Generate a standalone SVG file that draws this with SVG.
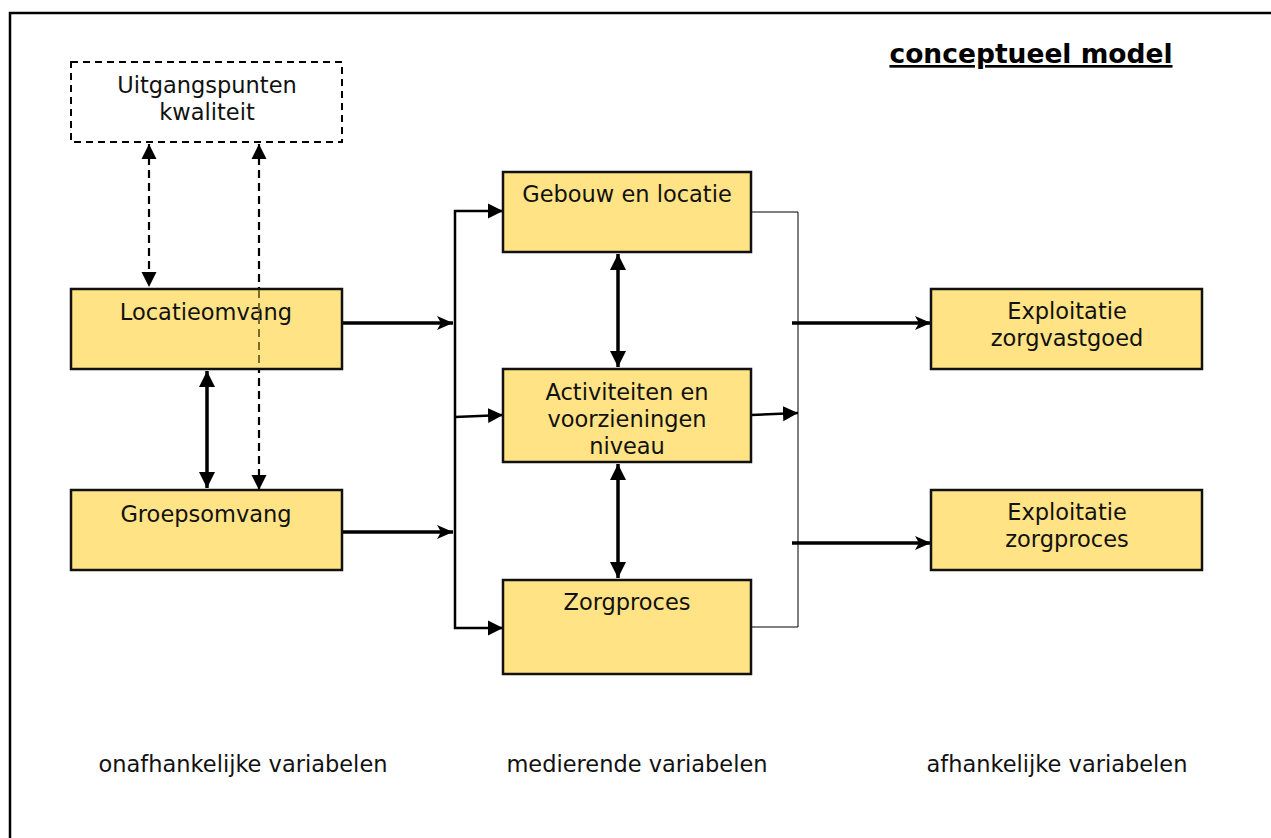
<svg xmlns="http://www.w3.org/2000/svg" width="1271" height="838" viewBox="0 0 1271 838">
<defs>
<style>
.box{fill:#FFE384;stroke:#111;stroke-width:2.5}
.t{font-family:"DejaVu Sans",Verdana,sans-serif;font-size:22.5px;fill:#111;text-anchor:middle}
.lbl{font-family:"DejaVu Sans",Verdana,sans-serif;font-size:22.5px;fill:#111;text-anchor:middle}
.thick{stroke:#000;stroke-width:3.5;fill:none}
.mid{stroke:#000;stroke-width:2.5;fill:none}
.thin{stroke:#000;stroke-width:1;fill:none}
.dash{stroke:#000;stroke-width:2.2;stroke-dasharray:8,5;fill:none}
</style>
<marker id="ah" markerUnits="userSpaceOnUse" markerWidth="18" markerHeight="18" refX="16" refY="8" orient="auto-start-reverse" viewBox="0 0 18 16">
<path d="M0,0 L16,8 L0,16 Z" fill="#000"/>
</marker>
<marker id="ahs" markerUnits="userSpaceOnUse" markerWidth="17" markerHeight="17" refX="15" refY="7.5" orient="auto-start-reverse" viewBox="0 0 17 15">
<path d="M0,0 L15,7.5 L0,15 Z" fill="#000"/>
</marker>
<marker id="ahn" markerUnits="userSpaceOnUse" markerWidth="18" markerHeight="16" refX="16" refY="7" orient="auto" viewBox="0 0 18 14">
<path d="M0,0 L16,7 L0,14 L4,7 Z" fill="#000"/>
</marker>
</defs>
<rect width="1271" height="838" fill="#fff"/>
<path d="M10,838 L10,13 L1271,13" fill="none" stroke="#000" stroke-width="2.5"/>

<g id="title"><text x="1031" y="63" font-family="DejaVu Sans,Verdana,sans-serif" font-size="26.5" font-weight="bold" text-anchor="middle" text-decoration="underline" fill="#000">conceptueel model</text></g>

<g id="connectors">
<line class="dash" x1="149" y1="144" x2="149" y2="287" marker-start="url(#ahs)" marker-end="url(#ahs)"/>
<line class="dash" x1="259" y1="144" x2="259" y2="490" marker-start="url(#ahs)" marker-end="url(#ahs)"/>
<line class="thick" x1="207" y1="371" x2="207" y2="488" marker-start="url(#ah)" marker-end="url(#ah)"/>
<line class="thick" x1="342" y1="323" x2="453" y2="323" marker-end="url(#ahn)"/>
<line class="thick" x1="342" y1="532" x2="453" y2="532" marker-end="url(#ahn)"/>
<path class="mid" d="M503,211 L455,211 L455,628 L503,628" marker-start="url(#ahs)" marker-end="url(#ahs)"/>
<line class="mid" x1="455" y1="417" x2="503" y2="415" marker-end="url(#ahs)"/>
<line class="thick" x1="618" y1="254" x2="618" y2="367" marker-start="url(#ah)" marker-end="url(#ah)"/>
<line class="thick" x1="618" y1="464" x2="618" y2="578" marker-start="url(#ah)" marker-end="url(#ah)"/>
<path class="thin" d="M751,212 L798,212 L798,627 L751,627"/>
<line class="mid" x1="751" y1="415" x2="798" y2="413" marker-end="url(#ahs)"/>
<line class="thick" x1="792" y1="323" x2="931" y2="323" marker-end="url(#ahn)"/>
<line class="thick" x1="792" y1="543" x2="931" y2="543" marker-end="url(#ahn)"/>
</g>

<g id="n-uitgangspunten">
<rect x="71" y="62" width="271" height="80" fill="#fff" stroke="#000" stroke-width="2" stroke-dasharray="7,5"/>
<text class="t" x="207" y="93">Uitgangspunten</text>
<text class="t" x="207" y="120">kwaliteit</text>
</g>
<g id="n-locatieomvang">
<rect class="box" x="71" y="289" width="271" height="80"/>
<text class="t" x="206" y="320">Locatieomvang</text>
<line x1="259" y1="290" x2="259" y2="368" stroke="#7a6a2e" stroke-width="2" stroke-dasharray="8,5"/>
</g>
<g id="n-groepsomvang">
<rect class="box" x="71" y="490" width="271" height="80"/>
<text class="t" x="206" y="522">Groepsomvang</text>
</g>
<g id="n-gebouw">
<rect class="box" x="503" y="172" width="248" height="80"/>
<text class="t" x="627" y="202">Gebouw en locatie</text>
</g>
<g id="n-activiteiten">
<rect class="box" x="503" y="369" width="248" height="93"/>
<text class="t" x="627" y="400">Activiteiten en</text>
<text class="t" x="627" y="427">voorzieningen</text>
<text class="t" x="627" y="454">niveau</text>
</g>
<g id="n-zorgproces">
<rect class="box" x="503" y="580" width="248" height="94"/>
<text class="t" x="627" y="610">Zorgproces</text>
</g>
<g id="n-expl-vastgoed">
<rect class="box" x="931" y="289" width="271" height="80"/>
<text class="t" x="1067" y="319">Exploitatie</text>
<text class="t" x="1067" y="346">zorgvastgoed</text>
</g>
<g id="n-expl-zorgproces">
<rect class="box" x="931" y="490" width="271" height="80"/>
<text class="t" x="1067" y="520">Exploitatie</text>
<text class="t" x="1067" y="547">zorgproces</text>
</g>

<g id="labels">
<text class="lbl" x="243" y="772">onafhankelijke variabelen</text>
<text class="lbl" x="637" y="772">medierende variabelen</text>
<text class="lbl" x="1057" y="772">afhankelijke variabelen</text>
</g>
</svg>
